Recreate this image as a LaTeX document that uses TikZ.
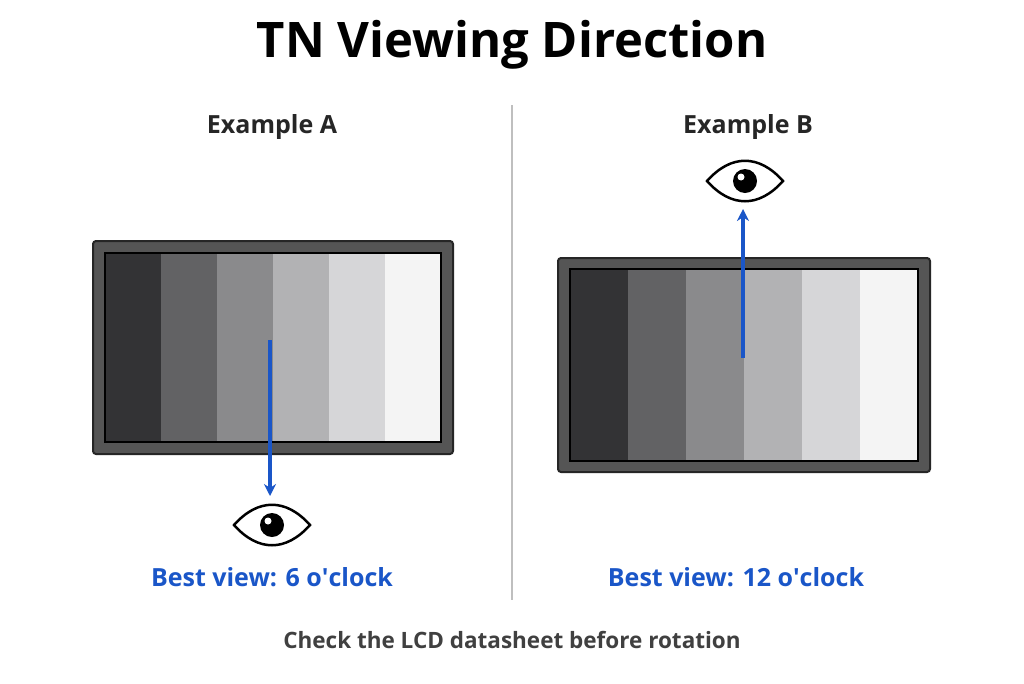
\documentclass[tikz,border=0pt]{standalone}
\usepackage{fontspec}
\setmainfont{Open Sans}
\usetikzlibrary{arrows.meta}
\definecolor{bl}{HTML}{1A56C8}
\definecolor{frame}{HTML}{555555}
\definecolor{sA}{HTML}{333335}
\definecolor{sB}{HTML}{626264}
\definecolor{sC}{HTML}{8A8A8C}
\definecolor{sD}{HTML}{B2B2B4}
\definecolor{sE}{HTML}{D6D6D8}
\definecolor{sF}{HTML}{F4F4F4}
\begin{document}
\begin{tikzpicture}[x=1pt,y=-1pt,
  lbl/.style={font=\bfseries\fontsize{25}{28}\selectfont, text=black!85},
  blue lbl/.style={font=\bfseries\fontsize{25}{28}\selectfont, text=bl},
  arr/.style={bl, line width=3.5pt, -{Stealth[length=12pt,width=12pt]}},
  fr/.style={draw=black!85, line width=2pt, fill=frame, rounded corners=3pt}]
\useasboundingbox (0,0) rectangle (1024,683);
\fill[white] (0,0) rectangle (1024,683);
\node[font=\bfseries\fontsize{49}{55}\selectfont] (title) at (512,45) {TN Viewing Direction};
\draw[black!25, line width=1.2pt] (512,105) -- (512,600);
\node[lbl] (exA) at (272,127) {Example A};
\node[lbl] (exB) at (748,127) {Example B};
% panel A
\draw[fr] (93,241) rectangle (453,454);
\foreach \c [count=\i from 0] in {sA,sB,sC,sD,sE,sF}
  \fill[\c] (105+56*\i,253) rectangle (105+56*\i+56,442);
\draw[black, line width=1.5pt] (105,253) rectangle (441,442);
% panel B
\draw[fr] (558,258) rectangle (930,472);
\foreach \c [count=\i from 0] in {sA,sB,sC,sD,sE,sF}
  \fill[\c] (570+58*\i,269) rectangle (570+58*\i+58,461);
\draw[black, line width=1.5pt] (570,269) rectangle (918,461);
% eyes
\foreach \n/\x/\y in {eyeA/272/525, eyeB/745/181}{
  \coordinate (\n) at (\x,\y);
  \draw[black, line width=2.5pt, fill=white] (\x-38,\y) .. controls (\x-14,\y-27) and (\x+14,\y-27) .. (\x+38,\y)
     .. controls (\x+14,\y+27) and (\x-14,\y+27) .. (\x-38,\y) -- cycle;
  \fill[black] (\x,\y) circle (12);
  \fill[white] (\x-4,\y-4) circle (3.5);
}
\coordinate (aS) at (270,340);
\coordinate (aE) at (270,496);
\draw[arr] (aS) -- (aE);
\coordinate (bS) at (743,358);
\coordinate (bE) at (743,209);
\draw[arr] (bS) -- (bE);
\node[blue lbl] (bvA) at (272,577) {Best view: 6 o\textquotesingle clock};
\node[blue lbl] (bvB) at (736,577) {Best view: 12 o\textquotesingle clock};
\node[font=\bfseries\fontsize{22.5}{26}\selectfont, text=black!75] (note) at (512,640) {Check the LCD datasheet before rotation};
\end{tikzpicture}
\end{document}
